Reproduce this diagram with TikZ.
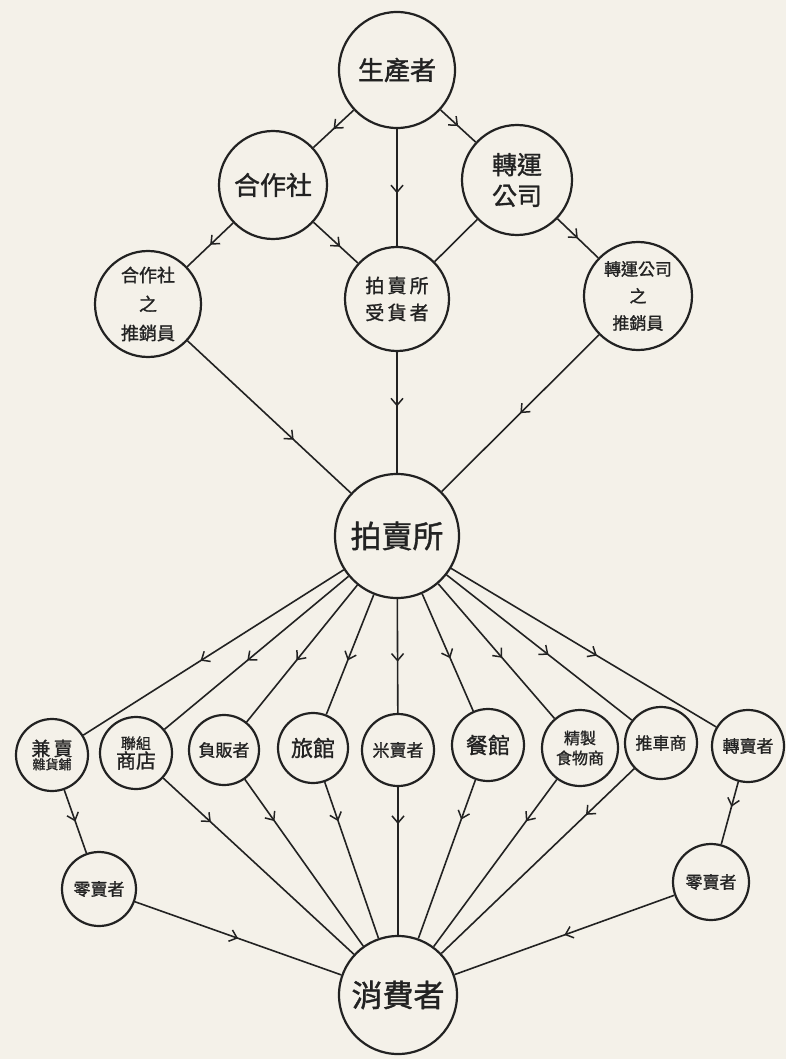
\documentclass[tikz,border=0pt]{standalone}
\usepackage{fontspec}
\newfontfamily\cjk[FakeBold=1.2]{Noto Sans CJK TC}
\usetikzlibrary{arrows.meta,decorations.markings}
\definecolor{paper}{HTML}{F4F1E9}
\definecolor{ink}{HTML}{222222}
\tikzset{
  circ/.style={circle,draw=ink,line width=2.2pt,inner sep=0pt,minimum size=#1,align=center,text=ink},
  fs/.style={font={\cjk\fontsize{#1}{30}\selectfont}},
  flow/.style={draw=ink,line width=1.6pt,postaction={decorate},
    decoration={markings,mark=at position #1 with {\arrow{Straight Barb[length=7pt,width=12pt,line width=1.5pt]}}}},
  flow/.default=0.5,
  link/.style={draw=ink,line width=1.6pt},
}
\begin{document}
\begin{tikzpicture}[x=1pt,y=-1pt]
\path[fill=paper] (0,0) rectangle (786,1059);
\useasboundingbox (0,0) rectangle (786,1059);
% top tier
\node[circ=116pt,fs=26] (prod) at (397,70) {生產者};
\node[circ=108pt,fs=26] (coop) at (273,185) {合作社};
\node[circ=110pt,font={\cjk\fontsize{25}{31}\selectfont}] (trans) at (517,180) {轉運\\公司};
\node[circ=106pt,font={\cjk\fontsize{18}{29}\selectfont}] (coopS) at (148,304) {合作社\\之\\推銷員};
\node[circ=104pt,font={\cjk\fontsize{19}{27}\selectfont}] (recv) at (397,299) {拍\,賣\,所\\受\,貨\,者};
\node[circ=108pt,font={\cjk\fontsize{17}{27}\selectfont}] (transS) at (638,296) {轉運公司\\之\\推銷員};
% auction
\node[circ=124pt,fs=31] (auc) at (397,536) {拍賣所};
% bottom row
\node[circ=72pt] (b1) at (52,755) {{\cjk\fontsize{19}{22}\selectfont 兼\,賣}\\{\cjk\fontsize{13}{16}\selectfont 雜貨鋪}};
\node[circ=72pt] (b2) at (136,753) {{\cjk\fontsize{15}{19}\selectfont 聯組}\\{\cjk\fontsize{20}{22}\selectfont 商店}};
\node[circ=70pt,fs=17] (b3) at (224,750) {負販者};
\node[circ=70pt,fs=22] (b4) at (313,748) {旅館};
\node[circ=72pt,fs=17] (b5) at (398,750) {米賣者};
\node[circ=72pt,fs=22] (b6) at (488,745) {餐館};
\node[circ=76pt,font={\cjk\fontsize{16}{20}\selectfont}] (b7) at (580,748) {精製\\食物商};
\node[circ=72pt,fs=17] (b8) at (661,743) {推車商};
\node[circ=72pt,fs=17] (b9) at (748,746) {轉賣者};
% retailers and consumer
\node[circ=74pt,fs=17] (r1) at (99,889) {零賣者};
\node[circ=76pt,fs=17] (r2) at (711,882) {零賣者};
\node[circ=118pt,fs=31] (cons) at (398,995) {消費者};
% connectors, top
\draw[flow=0.5] (prod) -- (coop);
\draw[flow=0.55] (prod) -- (recv);
\draw[flow=0.5] (prod) -- (trans);
\draw[flow=0.5] (coop) -- (coopS);
\draw[flow=0.6] (coop) -- (recv);
\draw[link] (trans) -- (recv);
\draw[flow=0.5] (trans) -- (transS);
\draw[flow=0.65] (coopS) -- (auc);
\draw[flow=0.45] (recv) -- (auc);
\draw[flow=0.5] (transS) -- (auc);
% fan out of auction
\foreach \b in {b1,b2,b3,b4,b5,b6,b7,b8,b9}{
  \draw[flow=0.55] (auc) -- (\b);
}
% into consumer
\foreach \b in {b2,b3,b4,b5,b6,b7,b8}{
  \draw[flow=0.25] (\b) -- (cons);
}
\draw[flow=0.5] (b1) -- (r1);
\draw[flow=0.4] (b9) -- (r2);
\draw[flow=0.5] (r1) -- (cons);
\draw[flow=0.5] (r2) -- (cons);
\end{tikzpicture}
\end{document}
